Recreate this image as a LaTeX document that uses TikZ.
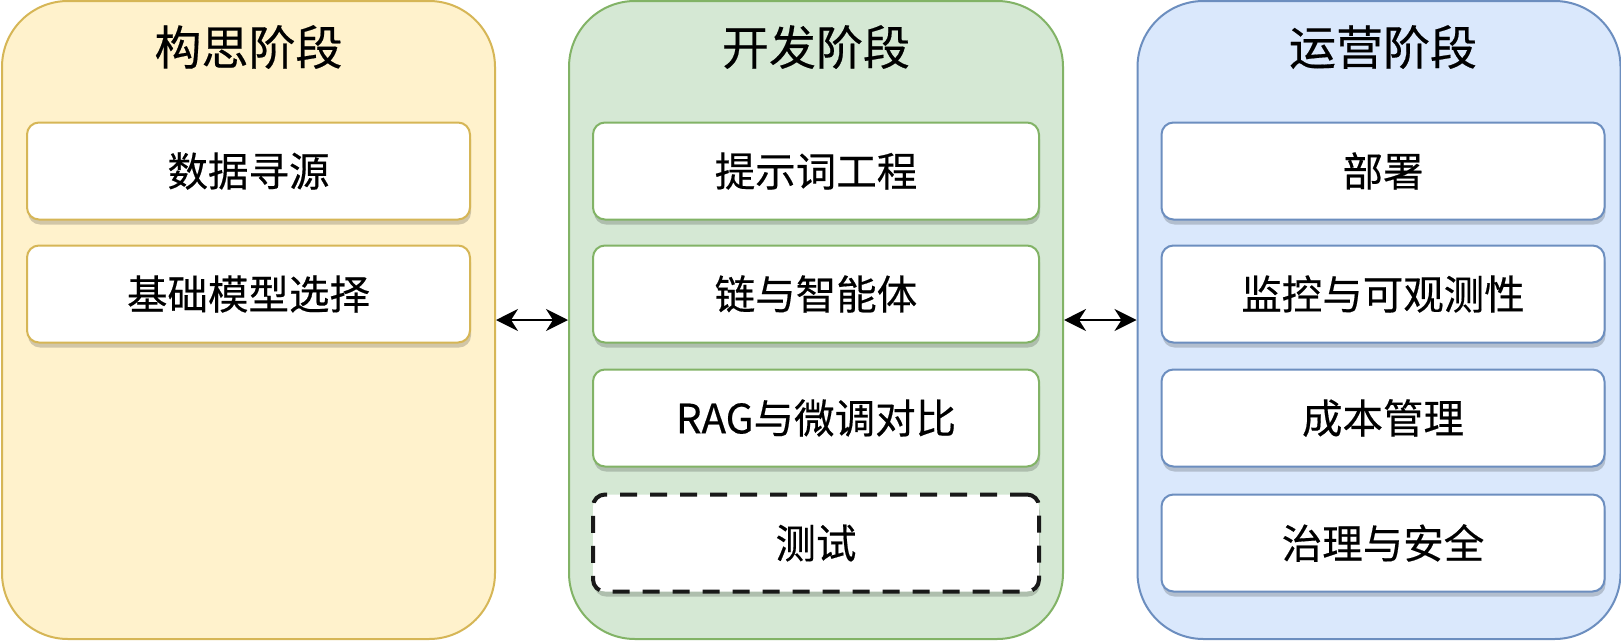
\documentclass[tikz,border=0pt]{standalone}
\usepackage{fontspec}
\setmainfont{Noto Sans CJK SC}[FakeBold=0.4]
\usetikzlibrary{arrows.meta,shadows}
\definecolor{yfill}{HTML}{FFF2CC}
\definecolor{ydraw}{HTML}{D6B656}
\definecolor{gfill}{HTML}{D5E8D4}
\definecolor{gdraw}{HTML}{82B366}
\definecolor{bfill}{HTML}{DAE8FC}
\definecolor{bdraw}{HTML}{6C8EBF}
\tikzset{
  panel/.style={rounded corners=66pt, line width=2pt, minimum width=#1, minimum height=638pt, inner sep=0pt},
  ptitle/.style={font=\fontsize{47}{52}\selectfont, text=black, inner sep=0pt},
  item/.style={rounded corners=12pt, line width=2pt, fill=white, minimum width=443pt, minimum height=97pt,
    inner sep=0pt, font=\fontsize{40.5}{46}\selectfont, text=black,
    drop shadow={shadow xshift=1pt, shadow yshift=-5pt, opacity=0.18, fill=black}},
  dashitem/.style={item, draw=black!90, line width=4pt, dash pattern=on 17pt off 13pt},
  link/.style={line width=2pt, {Stealth[length=22pt,width=22pt,inset=7pt]}-{Stealth[length=22pt,width=22pt,inset=7pt]}}
}
\begin{document}
\begin{tikzpicture}[x=1pt,y=-1pt]
\useasboundingbox (0,0) rectangle (1621,640);
\fill[white] (0,0) rectangle (1621,640);
% panels
\node[panel=493pt, fill=yfill, draw=ydraw] (p1) at (248.5,320) {};
\node[panel=494pt, fill=gfill, draw=gdraw] (p2) at (816,320) {};
\node[panel=483pt, fill=bfill, draw=bdraw] (p3) at (1379,320) {};
% titles
\node[ptitle] (t1) at (248.5,47) {构思阶段};
\node[ptitle] (t2) at (816,47) {开发阶段};
\node[ptitle] (t3) at (1383,47) {运营阶段};
% left items
\node[item, draw=ydraw] (a1) at (248.5,171) {数据寻源};
\node[item, draw=ydraw] (a2) at (248.5,294) {基础模型选择};
% middle items
\node[item, draw=gdraw, minimum width=446pt] (b1) at (816,171) {提示词工程};
\node[item, draw=gdraw, minimum width=446pt] (b2) at (816,294) {链与智能体};
\node[item, draw=gdraw, minimum width=446pt] (b3) at (816,418) {RAG与微调对比};
\node[dashitem, minimum width=446pt] (b4) at (816,543) {测试};
% right items
\node[item, draw=bdraw] (c1) at (1383,171) {部署};
\node[item, draw=bdraw] (c2) at (1383,294) {监控与可观测性};
\node[item, draw=bdraw] (c3) at (1383,418) {成本管理};
\node[item, draw=bdraw] (c4) at (1383,543) {治理与安全};
% connectors
\draw[link] (p1.east) -- (p2.west);
\draw[link] (p2.east) -- (p3.west);
\end{tikzpicture}
\end{document}
